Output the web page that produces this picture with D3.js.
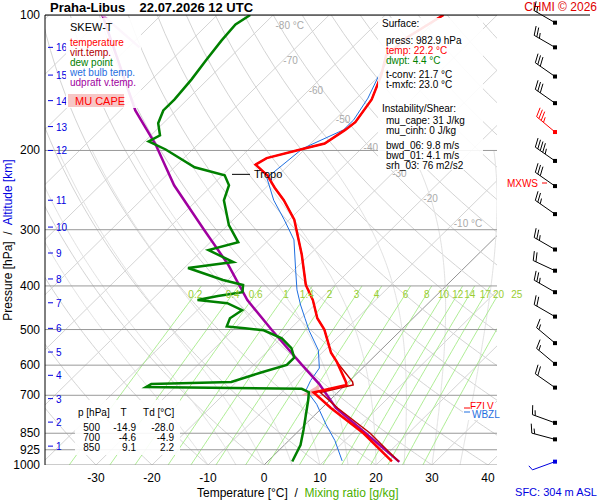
<!DOCTYPE html>
<html><head><meta charset="utf-8">
<script src="https://cdn.jsdelivr.net/npm/d3@7"></script>
<style>body{margin:0;background:#fff}text{font-family:"Liberation Sans",Arial,sans-serif}</style>
</head><body><div id="chart"></div>
<script>
// sounding values (p in hPa, T in °C)
var tempP = [982,850,747,690,664,653,590,563,527,500,472,430,398,341,285,258,242,227,215,208,198,193,180,173,154,136,123,112,100];
var tempT = [22.2,12,1.6,-4.3,0.2,-0.5,-5.7,-8.4,-11.4,-13.8,-17.1,-21.2,-25.2,-31.4,-39.1,-44.5,-48.4,-52,-56,-55.2,-50.2,-47.5,-46.3,-45.9,-47.1,-49.8,-52.5,-52,-49.6];
var dewP = [982,903,836,717,689,677,671,661,654,623,599,577,550,523,502,497,492,472,453,437,430,421,413,398,388,365,354,333,320,293,258,239,227,218,199,191,185,174,163,154,139,126,114,105,100];
var dewT = [4.4,2.9,0.7,-3.9,-5.2,-7.1,-35.2,-34.8,-20.9,-17.3,-14.1,-14.1,-16.3,-19.8,-24.5,-28.2,-31.8,-32.7,-32,-35.9,-41.8,-38.9,-35.2,-36.4,-40.9,-49.3,-42.3,-48.9,-45,-49.8,-55.2,-57,-59.6,-66.4,-74.8,-79.3,-78.4,-80.9,-82.3,-82.3,-82.9,-83.8,-84.6,-85,-84.1];
var wetP = [979,882,814,733,681,649,609,556,502,472,441,408,368,316,285,258,230,198,180,171,153,136,123,112,100];
var wetT = [13.2,8.2,3.8,-1.6,-6.1,-7,-7.7,-11.1,-16.4,-19.3,-22.5,-25.9,-29.8,-35.5,-40.9,-46.3,-51.6,-50.5,-46.6,-46.6,-48,-50.2,-51.6,-51.8,-49.8];
var parcelP = [984,747,661,599,502,430,359,300,239,194,163,100];
var parcelT = [23.6,2.5,-4.8,-11.4,-23,-32.9,-42.7,-53.4,-66.8,-77.5,-87.3,-110.5];
var pressLevels = [100,200,300,400,500,600,700,850,925,1000];
var altKm = [1,2,3,4,5,6,7,8,9,10,11,12,13,14,15,16];
var altP = [908,803,712,632,561,497,436,386,338,296,258,200,177,155,136,118];
var mixRatios = [0.2,0.4,0.6,1,1.4,2,3,4,6,8,10,12,14,17,20,25];
var isoLabels = [-80,-70,-60,-50,-40,-30,-20,-10];
var windP = [104,118,137,157,182,211,240,277,332,370,413,468,536,596,673,806,877,983];
var windDir = [300,300,305,305,310,305,305,305,300,295,300,300,310,310,305,290,285,250];
var windKt = [15,25,30,30,35,45,30,25,25,20,25,20,15,15,20,15,15,5];
var tableRows = [["500","-14.9","-28.0"],["700","-4.6","-4.9"],["850","9.1","2.2"]];

var W = 600, H = 500;
var pLeft = 45, pRight = 497, pTop = 15, pBottom = 465;
var y = d3.scaleLog().domain([100,1000]).range([pTop,pBottom]);
var x0 = d3.scaleLinear().domain([0,10]).range([264,320]);
function px(T,p){ return x0(T) + (pBottom - y(p)) * 1.016; }

var svg = d3.select('#chart').append('svg').attr('width',W).attr('height',H);
svg.append('clipPath').attr('id','clip').append('rect')
  .attr('x',pLeft).attr('y',pTop).attr('width',pRight-pLeft).attr('height',pBottom-pTop);
var g = svg.append('g').attr('clip-path','url(#clip)');
var line = d3.line().x(function(d){return px(d[1],d[0]);}).y(function(d){return y(d[0]);});

// isotherms
d3.range(-160,60,10).forEach(function(T){
  g.append('path').attr('d',line([[1000,T],[100,T]])).attr('stroke',T==0?'#777':'#d4d4d4').attr('stroke-width',T==0?0.8:1).attr('fill','none');
});
// dry adiabats
d3.range(-40,200,10).forEach(function(th){
  var pts = d3.range(1000,99,-10).map(function(p){return [p,(th+273.15)*Math.pow(p/1000,0.286)-273.15];});
  g.append('path').attr('d',line(pts)).attr('stroke','#d4d4d4').attr('fill','none');
});
// moist adiabats
function es(T){return 6.112*Math.exp(17.67*T/(T+243.5));}
d3.range(-10,40,5).forEach(function(t0){
  var T = t0+273.15, pts=[];
  for(var p=1000;p>=200;p-=5){
    pts.push([p,T-273.15]);
    var rs = 0.622*es(T-273.15)/(p-es(T-273.15));
    var dT = (287*T+2.5e6*rs)/(1005+2.5e6*2.5e6*rs*0.622/(287*T*T))/p;
    T -= dT*5;
  }
  g.append('path').attr('d',line(pts)).attr('stroke','#e2e2e2').attr('fill','none');
});
// mixing ratio lines
function tdw(w,p){ var e=w*p/(622+w), l=Math.log(e/6.112); return 243.5*l/(17.67-l); }
mixRatios.forEach(function(w){
  var pts = d3.range(1000,399,-20).map(function(p){return [p,tdw(w,p)];});
  g.append('path').attr('d',line(pts)).attr('stroke','#9be87a').attr('stroke-width',0.8).attr('fill','none');
  svg.append('text').attr('x',px(tdw(w,417),417)).attr('y',298).attr('text-anchor','middle')
    .attr('font-size',10).attr('fill','#9acd32').text(w);
});
// isobars
pressLevels.forEach(function(p){
  g.append('line').attr('x1',pLeft).attr('x2',pRight).attr('y1',y(p)).attr('y2',y(p)).attr('stroke','#999');
});
isoLabels.forEach(function(T,i){
  var p = [105,126,147,170,196,225,255,290][i];
  svg.append('text').attr('x',px(T,p)+ (i==0?12:0)).attr('y',y(p)+4).attr('font-size',10).attr('fill','#aaa')
    .text(T + (i==0||i==7?' °C':''));
});

// CAPE area
g.append('path').attr('d',line([[700,-6],[660,-4.6],[700,-3.2]])).attr('fill','#f4b8b8');

// profiles
var zip = function(a,b){return a.map(function(v,i){return [v,b[i]];});};
g.append('path').attr('d',line(zip(wetP,wetT))).attr('stroke','#1f6fe0').attr('fill','none');
g.append('path').attr('d',line(zip(parcelP,parcelT))).attr('stroke','#a000a0').attr('stroke-width',2.5).attr('fill','none');
g.append('path').attr('d',line(zip(tempP,tempT).map(function(d){return [d[0],d[1]+(d[0]>650?1.2:0)];})))
  .attr('stroke','#c00000').attr('stroke-width',1.5).attr('fill','none');
g.append('path').attr('d',line(zip(tempP,tempT))).attr('stroke','#ff0000').attr('stroke-width',2.5).attr('fill','none');
g.append('path').attr('d',line(zip(dewP,dewT))).attr('stroke','#008000').attr('stroke-width',2.5).attr('fill','none');
g.append('path').attr('d',line([[118,-98],[100,-110.5]])).attr('stroke','#dfa0df').attr('stroke-width',2.5);

// tropopause
svg.append('line').attr('x1',232).attr('x2',250).attr('y1',y(226)).attr('y2',y(226)).attr('stroke','#000');
svg.append('text').attr('x',254).attr('y',y(226)+4).attr('font-size',11).text('Tropo');

// axes
svg.append('line').attr('x1',pLeft).attr('x2',pLeft).attr('y1',pTop).attr('y2',pBottom).attr('stroke','#000');
svg.append('line').attr('x1',pLeft).attr('x2',590).attr('y1',pTop).attr('y2',pTop).attr('stroke','#000');
pressLevels.forEach(function(p){
  svg.append('text').attr('x',40).attr('y',y(p)+4).attr('text-anchor','end').attr('font-size',12).text(p);
});
altKm.forEach(function(k,i){
  var yy = y(altP[i]);
  svg.append('line').attr('x1',48).attr('x2',53).attr('y1',yy).attr('y2',yy).attr('stroke','#0000e0');
  svg.append('text').attr('x',56).attr('y',yy+4).attr('font-size',10).attr('fill','#0000e0').text(k);
});
d3.range(-30,41,10).forEach(function(T){
  svg.append('text').attr('x',x0(T)).attr('y',482).attr('text-anchor','middle').attr('font-size',12).text(T);
});
var xl = svg.append('text').attr('x',197).attr('y',497).attr('font-size',12).attr('xml:space','preserve');
xl.append('tspan').text('Temperature [°C]  /  ');
xl.append('tspan').attr('fill','#4caf00').text('Mixing ratio [g/kg]');
var yl = svg.append('text').attr('transform','translate(12,240) rotate(-90)').attr('text-anchor','middle').attr('font-size',12).attr('xml:space','preserve');
yl.append('tspan').text('Pressure [hPa]  /  ');
yl.append('tspan').attr('fill','#0000e0').text('Altitude [km]');
svg.append('text').attr('x',597).attr('y',496).attr('text-anchor','end').attr('font-size',11).attr('fill','#0000e0').text('SFC: 304 m ASL');

// titles
svg.append('text').attr('x',50).attr('y',12).attr('font-size',13).attr('font-weight','bold').attr('xml:space','preserve').text('Praha-Libus    22.07.2026 12 UTC');
svg.append('text').attr('x',597).attr('y',11).attr('text-anchor','end').attr('font-size',12).attr('fill','#e00000').text('CHMI © 2026');

// legend
svg.append('rect').attr('x',66).attr('y',18).attr('width',75).attr('height',90).attr('fill','#fff').attr('opacity',0.9);
svg.append('text').attr('x',70).attr('y',31).attr('font-size',11).text('SKEW-T');
[['temperature','#ff0000'],['virt.temp.','#b00000'],['dew point','#008000'],['wet bulb temp.','#1f6fe0'],['udpraft v.temp.','#a000a0']]
  .forEach(function(d,i){ svg.append('text').attr('x',70).attr('y',46+i*10).attr('font-size',10).attr('fill',d[1]).text(d[0]); });
svg.append('rect').attr('x',68).attr('y',94).attr('width',56).attr('height',13).attr('fill','#f7c6c6');
svg.append('text').attr('x',75).attr('y',105).attr('font-size',11).attr('fill','#ff0000').text('MU CAPE');

// info box
svg.append('rect').attr('x',378).attr('y',18).attr('width',105).attr('height',152).attr('fill','#fff').attr('opacity',0.9);
[['Surface:',27,'#000',382],['press: 982.9 hPa',44,'#000',386],['temp: 22.2 °C',54,'#ff0000',386],['dwpt: 4.4 °C',64,'#008000',386],
 ['t-conv: 21.7 °C',78,'#000',386],['t-mxfc: 23.0 °C',88,'#000',386],['Instability/Shear:',112,'#000',382],
 ['mu_cape: 31 J/kg',124,'#000',386],['mu_cinh: 0 J/kg',134,'#000',386],['bwd_06: 9.8 m/s',149,'#000',386],
 ['bwd_01: 4.1 m/s',159,'#000',386],['srh_03: 76 m2/s2',169,'#000',386]]
 .forEach(function(d){ svg.append('text').attr('x',d[3]).attr('y',d[1]).attr('font-size',10).attr('fill',d[2]).text(d[0]); });

// sounding table
svg.append('rect').attr('x',75).attr('y',400).attr('width',105).attr('height',55).attr('fill','#fff').attr('opacity',0.9);
svg.append('text').attr('x',78).attr('y',416).attr('font-size',10).attr('xml:space','preserve').text('p [hPa]    T      Td [°C]');
tableRows.forEach(function(r,i){
  var yy = 431+i*10;
  svg.append('text').attr('x',100).attr('y',yy).attr('text-anchor','end').attr('font-size',10).text(r[0]);
  svg.append('text').attr('x',136).attr('y',yy).attr('text-anchor','end').attr('font-size',10).text(r[1]);
  svg.append('text').attr('x',174).attr('y',yy).attr('text-anchor','end').attr('font-size',10).text(r[2]);
});

// freezing levels
svg.append('rect').attr('x',463).attr('y',403).attr('width',35).attr('height',17).attr('fill','#fff');
svg.append('line').attr('x1',464).attr('x2',470).attr('y1',408).attr('y2',408).attr('stroke','#ff0000');
svg.append('text').attr('x',470).attr('y',410).attr('font-size',10).attr('fill','#ff0000').text('FZLV');
svg.append('rect').attr('x',463).attr('y',409).attr('width',35).attr('height',11).attr('fill','#fff');
svg.append('line').attr('x1',464).attr('x2',470).attr('y1',412).attr('y2',412).attr('stroke','#1f6fe0');
svg.append('text').attr('x',472).attr('y',418).attr('font-size',10).attr('fill','#1f6fe0').text('WBZL');
svg.append('text').attr('x',538).attr('y',187).attr('text-anchor','end').attr('font-size',10).attr('fill','#ff0000').text('MXWS');
svg.append('line').attr('x1',542).attr('x2',547).attr('y1',183).attr('y2',183).attr('stroke','#ff0000');

// wind barbs: dot at the station, staff points into the wind, feathers on the north side
windP.forEach(function(p,i){
  var col = p==182 ? '#ff0000' : (p==983 ? '#0000e0' : '#000');
  var bx = 555, by = y(p), len = 24, a = windDir[i]*Math.PI/180;
  var dx = Math.sin(a), dy = -Math.cos(a);
  var ex = bx + dx*len, ey = by + dy*len;
  var b = svg.append('g').attr('stroke',col).attr('fill','none');
  b.append('line').attr('x1',bx).attr('y1',by).attr('x2',ex).attr('y2',ey);
  b.append('rect').attr('x',bx-2).attr('y',by-2).attr('width',4).attr('height',4).attr('fill',col).attr('stroke','none');
  var sp = windKt[i], k = 0;
  var nx = -dy, ny = dx;
  while(sp >= 10){
    var sx = ex - dx*k*3, sy = ey - dy*k*3;
    b.append('line').attr('x1',sx).attr('y1',sy).attr('x2',sx + nx*9 + dx*3).attr('y2',sy + ny*9 + dy*3);
    sp -= 10; k++;
  }
  if(sp >= 5){
    var sx2 = ex - dx*k*3, sy2 = ey - dy*k*3;
    b.append('line').attr('x1',sx2).attr('y1',sy2).attr('x2',sx2 + nx*5 + dx*2).attr('y2',sy2 + ny*5 + dy*2);
  }
});
</script></body></html>
